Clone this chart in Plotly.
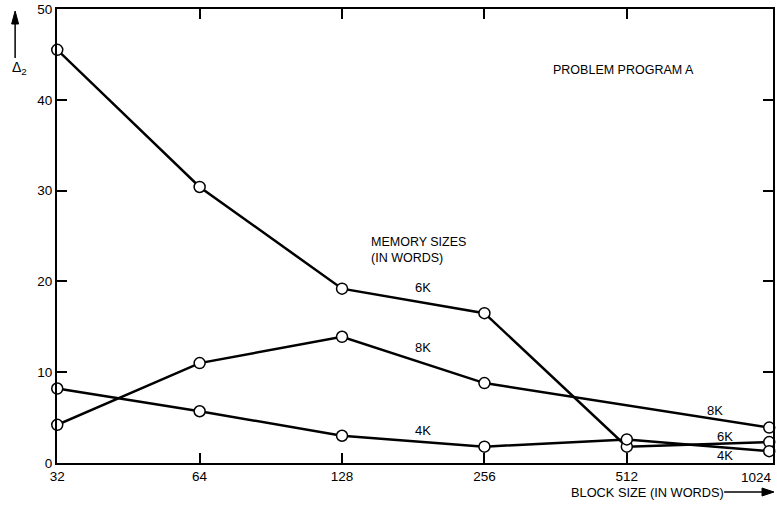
import plotly.graph_objects as go
import math

block_sizes = [32, 64, 128, 256, 512, 1024]
tick_labels = ["32", "64", "128", "256", "512", "1024"]
mem_6k = [45.5, 30.4, 19.2, 16.5, 1.8, 2.3]
mem_8k = [4.2, 11.0, 13.9, 8.8, None, 3.9]
mem_4k = [8.2, 5.7, 3.0, 1.8, 2.6, 1.3]
y_ticks = [0, 10, 20, 30, 40, 50]

FONT = "Liberation Sans"
W, H = 777, 507
ML, MR, MT, MB = 57, 2, 9, 44
PW, PH = W - ML - MR, H - MT - MB

def px(X):
    return (X - ML) / PW

def py(Y):
    return (H - MB - Y) / PH

fig = go.Figure()
for name, ys in [("6K", mem_6k), ("8K", mem_8k), ("4K", mem_4k)]:
    fig.add_trace(go.Scatter(
        x=block_sizes, y=ys, mode="lines+markers", name=name,
        connectgaps=True, cliponaxis=False,
        line=dict(color="black", width=2.5),
        marker=dict(symbol="circle", size=11, color="white",
                    line=dict(color="black", width=1.5)),
    ))

fig.update_layout(
    width=W, height=H,
    margin=dict(l=ML, r=MR, t=MT, b=MB),
    paper_bgcolor="white", plot_bgcolor="white",
    showlegend=False,
    font=dict(family=FONT, size=12, color="black"),
)
# the last tick (at the right border) is labelled by an annotation so it is not cut at the page edge
fig.update_xaxes(
    type="log", range=[math.log10(32) - 0.0005, math.log10(1024) + 0.008],
    tickvals=block_sizes[:-1], ticktext=tick_labels[:-1],
    showgrid=False, zeroline=False,
    showline=True, linecolor="black", linewidth=2,
    ticks="inside", ticklen=10, tickcolor="black", tickwidth=1.5,
    mirror="ticks", tickfont=dict(size=13.5, family=FONT),
)
fig.update_yaxes(
    range=[0, 50], tickvals=y_ticks,
    showgrid=False, zeroline=False,
    showline=True, linecolor="black", linewidth=2,
    ticks="inside", ticklen=10, tickcolor="black", tickwidth=1.5,
    mirror="ticks", tickfont=dict(size=13.5, family=FONT),
)

def txt(x, y, s, xref="paper", yref="paper", xa="left", size=13):
    fig.add_annotation(x=x, y=y, xref=xref, yref=yref, text=s, showarrow=False,
                       xanchor=xa, yanchor="middle", align="left",
                       font=dict(family=FONT, size=size, color="black"))

L2 = math.log10(2)
txt(math.log10(128) + 0.57 * L2, 19.3, "6K", "x", "y", "center")
txt(math.log10(128) + 0.57 * L2, 12.7, "8K", "x", "y", "center")
txt(math.log10(128) + 0.57 * L2, 3.6, "4K", "x", "y", "center")
txt(math.log10(1024) - 0.38 * L2, 5.8, "8K", "x", "y", "center")
txt(math.log10(1024) - 0.31 * L2, 2.9, "6K", "x", "y", "center")
txt(math.log10(1024) - 0.31 * L2, 0.8, "4K", "x", "y", "center")
txt(px(370), py(249.5), "MEMORY SIZES<br>(IN WORDS)", xa="left", size=12.5)
txt(px(552), py(70), "PROBLEM PROGRAM A", xa="left", size=12.5)
txt(px(570), py(492), "BLOCK SIZE (IN WORDS)", xa="left", size=12.8)
txt(px(776), py(478), tick_labels[-1], xa="right", size=13.5)
txt(px(19), py(68), "Δ<sub>2</sub>", xa="center", size=14)

# arrows drawn as shapes
fig.add_shape(type="line", xref="paper", yref="paper",
              x0=px(726), y0=py(492), x1=px(768), y1=py(492),
              line=dict(color="black", width=1.5))
fig.add_shape(type="path", xref="paper", yref="paper",
              path=f"M {px(776)},{py(492)} L {px(764)},{py(488)} L {px(764)},{py(496)} Z",
              fillcolor="black", line=dict(color="black", width=1))
fig.add_shape(type="line", xref="paper", yref="paper",
              x0=px(15), y0=py(58), x1=px(15), y1=py(20),
              line=dict(color="black", width=1.5))
fig.add_shape(type="path", xref="paper", yref="paper",
              path=f"M {px(15)},{py(11)} L {px(11.5)},{py(24)} L {px(18.5)},{py(24)} Z",
              fillcolor="black", line=dict(color="black", width=1))

fig.write_html("out.html", config={"displayModeBar": False},
               post_script="document.body.style.margin='0px';")
